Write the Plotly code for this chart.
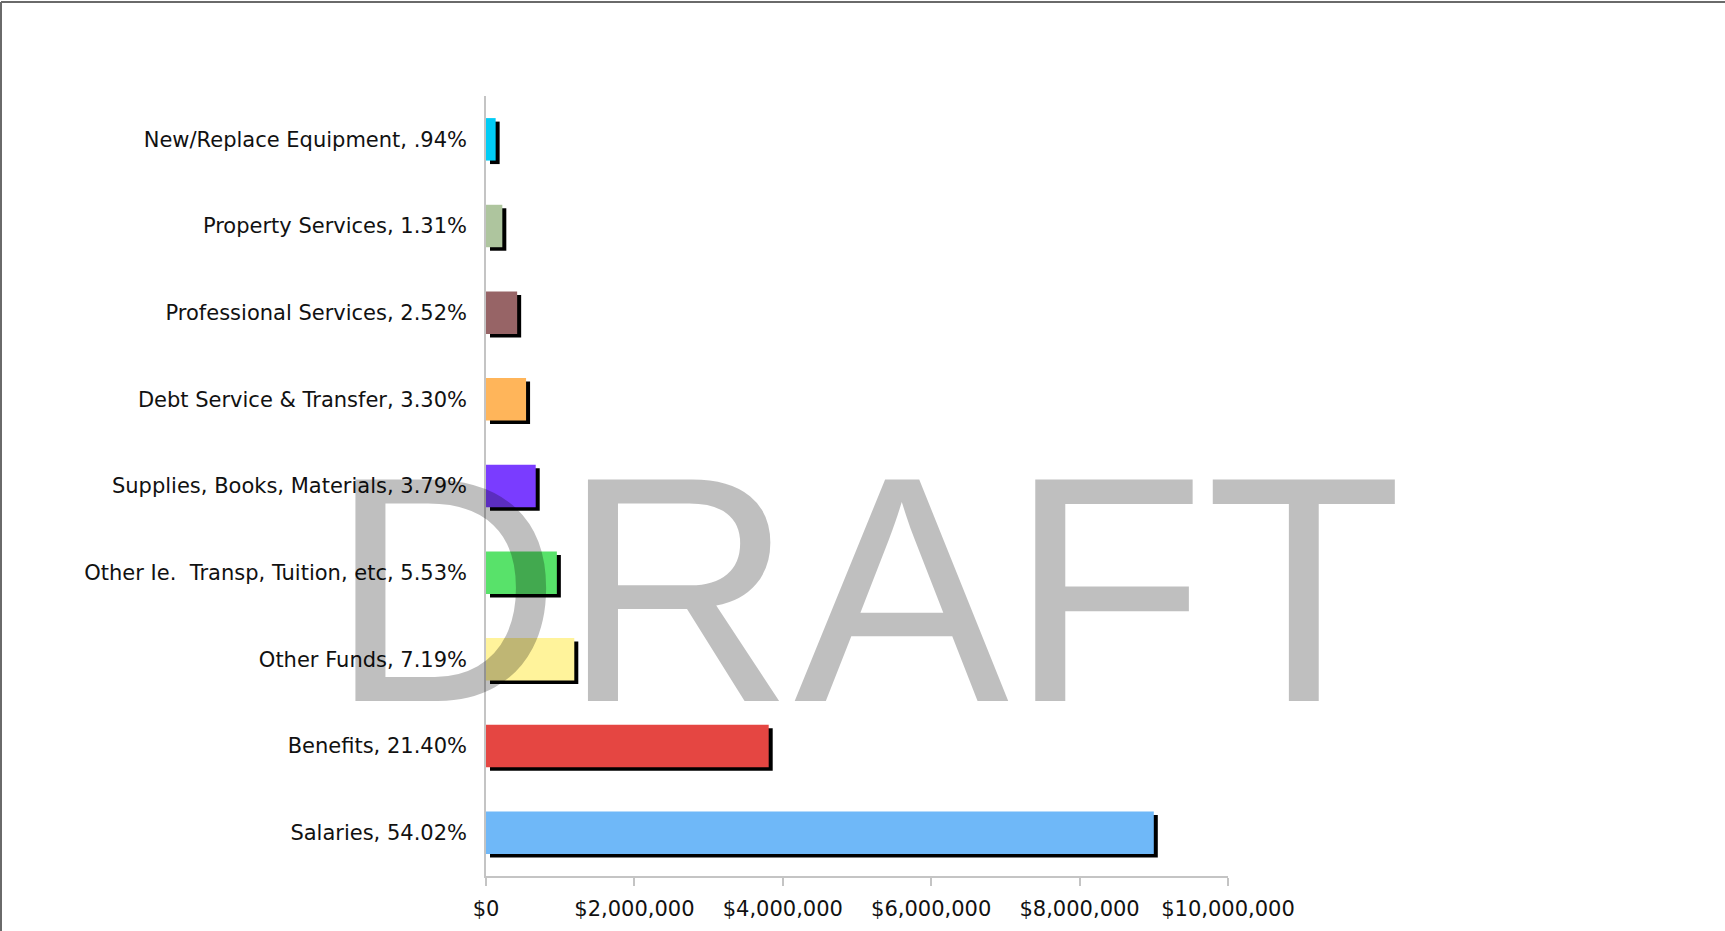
import plotly.graph_objects as go

# Data (bottom to top)
categories = [
    "Salaries, 54.02%",
    "Benefits, 21.40%",
    "Other Funds, 7.19%",
    "Other Ie.\u00a0 Transp, Tuition, etc, 5.53%",
    "Supplies, Books, Materials, 3.79%",
    "Debt Service & Transfer, 3.30%",
    "Professional Services, 2.52%",
    "Property Services, 1.31%",
    "New/Replace Equipment, .94%",
]
values = [9000000, 3810000, 1190000, 955000, 670000, 540000, 420000, 220000, 130000]
colors = ["#6fb8f8", "#e54642", "#fff39b", "#58e26a", "#7a3cff",
          "#ffb55a", "#976466", "#aec59e", "#00ccf5"]
tick_values = [0, 2000000, 4000000, 6000000, 8000000, 10000000]

W, H = 1725, 931
L, R, T, B = 486, 1228, 96, 876  # plot area pixels
px_per_x = (R - L) / 10000000
px_per_cat = (B - T) / len(categories)

bar_w = 0.49
shadow_dx = 4 / px_per_x
shadow_dy = 3.5 / px_per_cat

fig = go.Figure()
fig.add_trace(go.Bar(
    y=categories, x=values, base=[shadow_dx] * len(values), orientation="h",
    marker=dict(color="#000000", line=dict(width=0)),
    width=bar_w, offset=-bar_w / 2 - shadow_dy, hoverinfo="skip", showlegend=False,
))
fig.add_trace(go.Bar(
    y=categories, x=values, orientation="h",
    marker=dict(color=colors, line=dict(width=0)),
    width=bar_w, offset=-bar_w / 2, showlegend=False,
))

def px_to_paper_x(px):
    return (px - L) / (R - L)

def px_to_paper_y(py):
    return (B - py) / (B - T)

shapes = [
    dict(type="line", xref="paper", yref="paper",
         x0=px_to_paper_x(1), x1=px_to_paper_x(W), y0=px_to_paper_y(2), y1=px_to_paper_y(2),
         line=dict(color="#6a6a6a", width=2)),
    dict(type="line", xref="paper", yref="paper",
         x0=px_to_paper_x(1), x1=px_to_paper_x(1), y0=px_to_paper_y(2), y1=px_to_paper_y(H),
         line=dict(color="#6a6a6a", width=2)),
]

fig.update_layout(
    width=W, height=H,
    margin=dict(l=L, r=W - R, t=T, b=H - B, autoexpand=False),
    paper_bgcolor="white", plot_bgcolor="white",
    barmode="overlay",
    font=dict(family="DejaVu Sans", size=21, color="#111111"),
    shapes=shapes,
    annotations=[dict(
        text="DRAFT", xref="paper", yref="paper",
        x=px_to_paper_x(865), y=px_to_paper_y(589), xanchor="center", yanchor="middle",
        showarrow=False,
        font=dict(family="Liberation Sans", size=322, color="rgba(0,0,0,0.25)"),
    )],
)
fig.update_xaxes(
    range=[0, 10000000], tickvals=tick_values, tickformat="$,.0f",
    showgrid=False, zeroline=False, showline=True, linecolor="#c4c4c4", linewidth=1.5,
    ticks="outside", ticklen=8, tickcolor="#c4c4c4", tickwidth=1.5, ticklabelstandoff=5,
)
fig.update_yaxes(
    range=[-0.5, len(categories) - 0.5],
    showgrid=False, zeroline=False, showline=True, linecolor="#c4c4c4", linewidth=1.5,
    ticks="", ticklabelstandoff=13,
)

fig.write_html("out.html", config={"displayModeBar": False},
               post_script="document.body.style.margin='0';document.body.style.overflow='hidden';")
